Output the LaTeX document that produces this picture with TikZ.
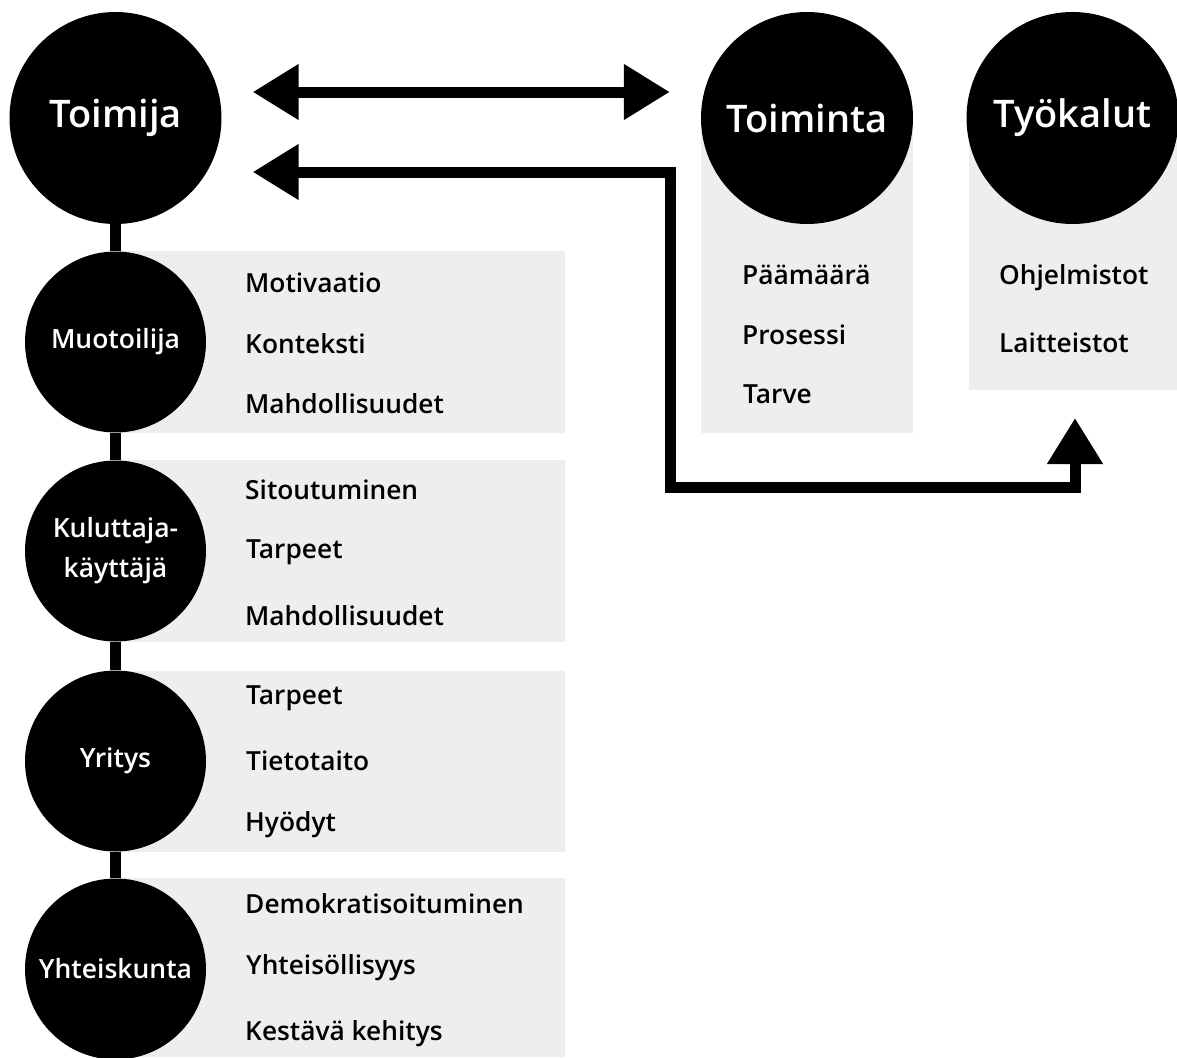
\documentclass[tikz,border=0pt]{standalone}
\usepackage{fontspec}
% semibold face of Open Sans, whichever name it is installed under
\IfFontExistsTF{Open Sans Semibold}{\setmainfont{Open Sans Semibold}}{%
  \IfFontExistsTF{OpenSans-Semibold.ttf}{\setmainfont{OpenSans-Semibold.ttf}}{%
    \IfFontExistsTF{OpenSans-SemiBold.ttf}{\setmainfont{OpenSans-SemiBold.ttf}}{%
      \setmainfont{Open Sans}[FakeBold=2.5]}}}
\usetikzlibrary{arrows.meta,calc}
\definecolor{panel}{HTML}{EEEEEE}
\begin{document}
\begin{tikzpicture}[x=1pt,y=-1pt,
  bigdot/.style={circle,fill=black,text=white,minimum size=212pt,inner sep=0pt,
    font=\fontsize{38}{44}\selectfont},
  dot/.style={circle,fill=black,text=white,minimum size=181pt,inner sep=0pt,
    align=center,font=\fontsize{26.5}{40}\selectfont},
  item/.style={anchor=base west,inner sep=0pt,font=\fontsize{26.3}{30}\selectfont},
  link/.style={line width=11pt,line join=miter},
  bigarrow/.style={link,{Triangle[width=53pt,length=46pt]}-{Triangle[width=53pt,length=46pt]}}
]
\useasboundingbox (0,0) rectangle (1177,1057);

% grey panels behind the circles
\fill[panel] (701,118) rectangle (913,433);
\fill[panel] (969,118) rectangle (1177,390);
\fill[panel] (115.5,251) rectangle (565,433);
\fill[panel] (115.5,460) rectangle (565,642);
\fill[panel] (115.5,671) rectangle (565,852);
\fill[panel] (115.5,878) rectangle (565,1057);

% main circles
\node[bigdot] (toimija) at (115.5,118) {Toimija};
\node[bigdot] (toiminta) at (807,118) {Toiminta};
\node[bigdot] (tyokalut) at (1072.5,118) {Työkalut};

% actor chain
\node[dot] (muotoilija) at (115.5,342) {Muotoilija};
\node[dot] (kuluttaja) at (115.5,551) {Kuluttaja-\\käyttäjä};
\node[dot] (yritys) at (115.5,761) {Yritys};
\node[dot] (yhteiskunta) at (115.5,969) {Yhteiskunta};

\draw[link] (toimija) -- (muotoilija) -- (kuluttaja) -- (yritys) -- (yhteiskunta);

% arrows
\draw[bigarrow] ([xshift=31pt,yshift=26pt]toimija.east) -- ([xshift=-31pt,yshift=26pt]toiminta.west);
\coordinate (bendtop) at (670,172);
\coordinate (bendbot) at (670,487);
\coordinate (tooltip) at (1075,418);
\draw[bigarrow] ([xshift=31pt,yshift=-54pt]toimija.east) -- (bendtop) -- (bendbot) -| (tooltip);

% items
\node[item] (mu1) at (245,292) {Motivaatio};
\node[item] (mu2) at (245,353) {Konteksti};
\node[item] (mu3) at (245,413) {Mahdollisuudet};
\node[item] (ku1) at (245,499) {Sitoutuminen};
\node[item] (ku2) at (246,558) {Tarpeet};
\node[item] (ku3) at (245,625) {Mahdollisuudet};
\node[item] (yr1) at (246,704) {Tarpeet};
\node[item] (yr2) at (246,770) {Tietotaito};
\node[item] (yr3) at (245,831) {Hyödyt};
\node[item] (yh1) at (245,913) {Demokratisoituminen};
\node[item] (yh2) at (246,974) {Yhteisöllisyys};
\node[item] (yh3) at (245,1040) {Kestävä kehitys};
\node[item] (to1) at (742,284) {Päämäärä};
\node[item] (to2) at (742,344) {Prosessi};
\node[item] (to3) at (743,403) {Tarve};
\node[item] (ty1) at (999,284) {Ohjelmistot};
\node[item] (ty2) at (999,352) {Laitteistot};
\end{tikzpicture}
\end{document}
